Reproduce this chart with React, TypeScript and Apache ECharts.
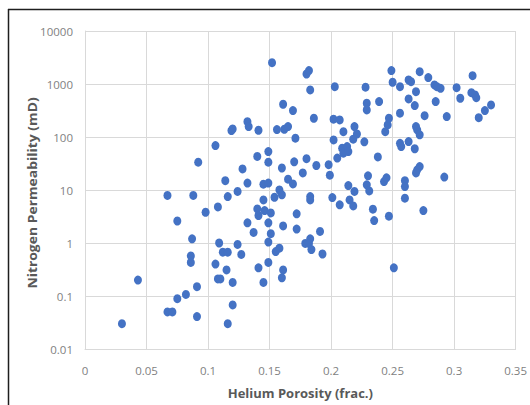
import React, { useEffect, useRef } from "react";
import * as echarts from "echarts";

// Helium porosity (fraction) of each core plug
const porosity = [
  0.030, 0.043, 0.067, 0.071, 0.067, 0.075, 0.075, 0.082, 0.086, 0.086,
  0.087, 0.088, 0.091, 0.091, 0.092, 0.098, 0.106, 0.106, 0.108, 0.108,
  0.110, 0.109, 0.112, 0.116, 0.115, 0.114, 0.116, 0.116, 0.119, 0.120,
  0.120, 0.120, 0.124, 0.124, 0.127, 0.128, 0.132, 0.132, 0.133, 0.132,
  0.137, 0.140, 0.140, 0.141, 0.141, 0.141, 0.145, 0.149, 0.145, 0.146,
  0.145, 0.149, 0.149, 0.149, 0.149, 0.149, 0.151, 0.151, 0.152, 0.154,
  0.155, 0.156, 0.158, 0.158, 0.160, 0.160, 0.160, 0.161, 0.161, 0.161,
  0.162, 0.165, 0.165, 0.169, 0.169, 0.170, 0.171, 0.172, 0.172, 0.177,
  0.179, 0.180, 0.180, 0.182, 0.182, 0.183, 0.183, 0.183, 0.183, 0.184,
  0.186, 0.188, 0.191, 0.193, 0.198, 0.199, 0.201, 0.202, 0.202, 0.203,
  0.205, 0.207, 0.207, 0.209, 0.213, 0.210, 0.214, 0.210, 0.214, 0.215,
  0.219, 0.218, 0.219, 0.221, 0.218, 0.227, 0.228, 0.229, 0.229, 0.230,
  0.229, 0.231, 0.234, 0.235, 0.238, 0.239, 0.243, 0.245, 0.244, 0.246,
  0.247, 0.247, 0.249, 0.250, 0.251, 0.256, 0.257, 0.256, 0.256, 0.260,
  0.260, 0.260, 0.263, 0.263, 0.263, 0.265, 0.268, 0.268, 0.269, 0.269,
  0.270, 0.272, 0.272, 0.270, 0.269, 0.272, 0.275, 0.276, 0.279, 0.284,
  0.286, 0.289, 0.285, 0.292, 0.294, 0.302, 0.305, 0.314, 0.315, 0.317,
  0.318, 0.320, 0.325, 0.330,
];

// Nitrogen permeability (mD) of the same plugs
const permeability = [
  0.030, 0.20, 0.050, 0.050, 7.9, 2.6, 0.089, 0.107, 0.43, 0.57,
  1.2, 7.9, 0.041, 0.15, 33.5, 3.8, 0.40, 69, 4.8, 0.21,
  0.21, 1.0, 0.67, 0.67, 0.31, 15, 0.030, 7.5, 132, 142,
  0.068, 0.18, 0.94, 9.4, 0.61, 25, 13.5, 195, 157, 2.4,
  1.58, 43, 4.4, 134, 3.3, 0.34, 12.9, 13.5, 6.5, 4.1,
  0.18, 2.4, 0.43, 53, 33.5, 1.04, 3.7, 1.5, 2520, 7.3,
  0.69, 138, 0.80, 10, 8.1, 26, 0.22, 0.31, 415, 2.1,
  140, 16, 157, 315, 13, 34, 95, 3.55, 1.83, 21,
  0.98, 1545, 39, 1790, 0.98, 773, 7.5, 6.5, 1.2, 0.75,
  226, 29, 1.65, 0.62, 30, 19, 7.2, 217, 88, 890,
  40, 210, 5.25, 61.5, 66, 49.5, 53, 126, 12.1, 6.5,
  9.4, 91, 157, 114, 5.0, 81, 870, 433, 324, 18.5,
  12.5, 9.6, 4.35, 2.65, 42, 465, 14.4, 17, 126, 169,
  226, 3.2, 1790, 1080, 0.34, 76, 66, 890, 281, 15,
  11.6, 7.0, 82, 523, 1190, 1105, 391, 60, 157, 718,
  136, 110, 27.7, 24, 21, 1710, 4.1, 253, 1320, 960,
  890, 830, 465, 17.5, 243, 853, 538, 687, 1435, 622,
  553, 232, 315, 403,
];

const xTitle = "Helium Porosity (frac.)";
const yTitle = "Nitrogen Permeability (mD)";

const FONT = "'Open Sans', 'Noto Sans', sans-serif";
const TICK_COLOR = "#7f7f7f";
const TITLE_COLOR = "#595959";
const GRID_COLOR = "#d9d9d9";

export default function App() {
  const ref = useRef<HTMLDivElement>(null);

  useEffect(() => {
    if (!ref.current) return;
    const chart = echarts.init(ref.current, null, { renderer: "svg" });
    const points = porosity.map((p, i) => [p, permeability[i]]);

    chart.setOption({
      animation: false,
      backgroundColor: "#ffffff",
      grid: { left: 85, right: 9, top: 31, bottom: 56, containLabel: false },
      xAxis: {
        type: "value",
        min: 0,
        max: 0.35,
        interval: 0.05,
        name: xTitle,
        nameLocation: "middle",
        nameGap: 37,
        nameTextStyle: {
          fontFamily: FONT,
          fontSize: 13,
          fontWeight: "bold",
          color: TITLE_COLOR,
        },
        axisLine: { show: true, lineStyle: { color: GRID_COLOR, width: 1 } },
        axisTick: { show: false },
        axisLabel: {
          margin: 15,
          fontFamily: FONT,
          fontSize: 11.5,
          color: TICK_COLOR,
          showMaxLabel: true,
          showMinLabel: true,
          formatter: (v: number) => String(Math.round(v * 100) / 100),
        },
        splitLine: { show: true, lineStyle: { color: GRID_COLOR, width: 1 } },
      },
      yAxis: {
        type: "log",
        logBase: 10,
        min: 0.01,
        max: 10000,
        axisLine: { show: true, lineStyle: { color: GRID_COLOR, width: 1 } },
        axisTick: { show: false },
        axisLabel: {
          margin: 12,
          fontFamily: FONT,
          fontSize: 11.5,
          color: TICK_COLOR,
          formatter: (v: number) =>
            v >= 1 ? String(Math.round(v)) : String(Number(v.toPrecision(1))),
        },
        splitLine: { show: true, lineStyle: { color: GRID_COLOR, width: 1 } },
      },
      graphic: [
        {
          type: "line",
          shape: { x1: 8, y1: 9.5, x2: 540, y2: 9.5 },
          style: { stroke: "#1e1e1e", lineWidth: 1.5 },
          silent: true,
        },
        {
          type: "line",
          shape: { x1: 8.5, y1: 9, x2: 8.5, y2: 420 },
          style: { stroke: "#1e1e1e", lineWidth: 1.5 },
          silent: true,
        },
        {
          type: "text",
          x: 32,
          y: 193,
          rotation: Math.PI / 2,
          scaleX: 1.07,
          style: {
            text: yTitle,
            font: `bold 13px ${FONT}`,
            fill: TITLE_COLOR,
            align: "center",
            verticalAlign: "middle",
          },
          silent: true,
        },
      ],
      series: [
        {
          type: "scatter",
          data: points,
          symbol: "circle",
          symbolSize: [8, 9],
          itemStyle: { color: "#4472c4", opacity: 1 },
          emphasis: { disabled: true },
        },
      ],
    });

    return () => chart.dispose();
  }, []);

  return (
    <div
      ref={ref}
      style={{ position: "absolute", left: 0, top: 0, width: 530, height: 405 }}
    />
  );
}
